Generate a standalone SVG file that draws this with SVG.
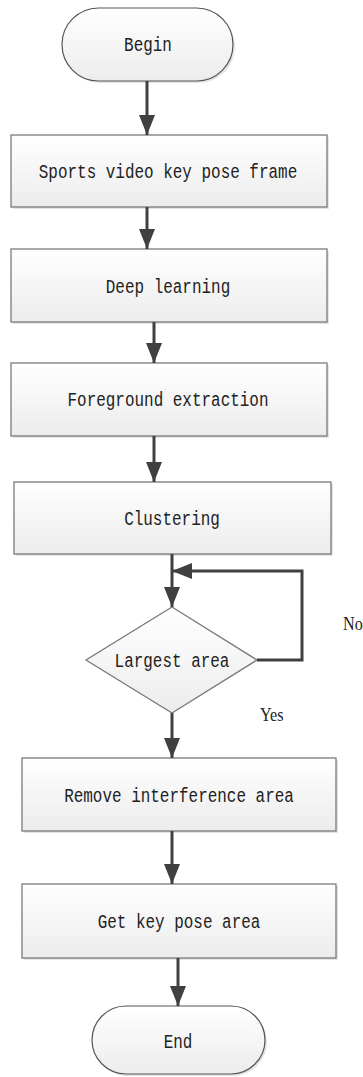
<svg xmlns="http://www.w3.org/2000/svg" width="363" height="1077" viewBox="0 0 363 1077">
<defs>
<linearGradient id="g" x1="0" y1="0" x2="0" y2="1">
<stop offset="0" stop-color="#ffffff"/>
<stop offset="1" stop-color="#ececec"/>
</linearGradient>
<marker id="ah" markerUnits="userSpaceOnUse" markerWidth="20" markerHeight="16" refX="20" refY="8" orient="auto">
<path d="M0,0 L20,8 L0,16 Z" fill="#404040"/>
</marker>
</defs>
<style>
.box{fill:url(#g);stroke:#7a7a7a;stroke-width:1.3}
.term{fill:url(#g);stroke:#555;stroke-width:1.2}
.shadow{fill:#e4e4e4}
.t{font-family:"Liberation Mono",monospace;font-size:21px;fill:#222;text-anchor:middle}
.lbl{font-family:"Liberation Serif",serif;font-size:19px;fill:#222}
.c{fill:none;stroke:#404040;stroke-width:3;marker-end:url(#ah)}
</style>
<g id="begin">
<rect x="64" y="10" width="171" height="73" rx="36.5" class="shadow"/>
<rect x="62" y="8" width="171" height="73" rx="36.5" class="term"/>
<text transform="matrix(0.76 0 0 1 148 51)" class="t">Begin</text>
</g>
<g id="sports">
<rect x="13" y="137" width="316" height="72" class="shadow"/>
<rect x="11" y="135" width="316" height="72" class="box"/>
<text transform="matrix(0.76 0 0 1 168 178)" class="t">Sports video key pose frame</text>
</g>
<g id="deep">
<rect x="13" y="251" width="316" height="73" class="shadow"/>
<rect x="11" y="249" width="316" height="73" class="box"/>
<text transform="matrix(0.76 0 0 1 168 293)" class="t">Deep learning</text>
</g>
<g id="foreground">
<rect x="13" y="365" width="316" height="73" class="shadow"/>
<rect x="11" y="363" width="316" height="73" class="box"/>
<text transform="matrix(0.76 0 0 1 168 406)" class="t">Foreground extraction</text>
</g>
<g id="clustering">
<rect x="16" y="484" width="317" height="72" class="shadow"/>
<rect x="14" y="482" width="317" height="72" class="box"/>
<text transform="matrix(0.76 0 0 1 172 525)" class="t">Clustering</text>
</g>
<g id="largest">
<polygon points="172,607 257,660 172,713 86,660" class="box"/>
<text transform="matrix(0.76 0 0 1 172 667)" class="t">Largest area</text>
</g>
<g id="remove">
<rect x="24" y="760" width="314" height="73" class="shadow"/>
<rect x="22" y="758" width="314" height="73" class="box"/>
<text transform="matrix(0.76 0 0 1 179 802)" class="t">Remove interference area</text>
</g>
<g id="getkey">
<rect x="24" y="886" width="314" height="74" class="shadow"/>
<rect x="22" y="884" width="314" height="74" class="box"/>
<text transform="matrix(0.76 0 0 1 179 928)" class="t">Get key pose area</text>
</g>
<g id="end">
<rect x="94" y="1008" width="173" height="68" rx="34" class="shadow"/>
<rect x="92" y="1006" width="173" height="68" rx="34" class="term"/>
<text transform="matrix(0.76 0 0 1 178 1048)" class="t">End</text>
</g>
<g id="connectors">
<line x1="147" y1="81" x2="147" y2="135" class="c"/>
<line x1="147" y1="207" x2="147" y2="249" class="c"/>
<line x1="154" y1="322" x2="154" y2="363" class="c"/>
<line x1="154" y1="436" x2="154" y2="482" class="c"/>
<line x1="172" y1="554" x2="172" y2="607" class="c"/>
<polyline points="257,660 302,660 302,571 172,571" class="c"/>
<line x1="172" y1="713" x2="172" y2="758" class="c"/>
<line x1="172" y1="831" x2="172" y2="884" class="c"/>
<line x1="178" y1="958" x2="178" y2="1006" class="c"/>
</g>
<text transform="matrix(0.85 0 0 1 343 630)" class="lbl">No</text>
<text transform="matrix(0.85 0 0 1 260 721)" class="lbl">Yes</text>
</svg>
